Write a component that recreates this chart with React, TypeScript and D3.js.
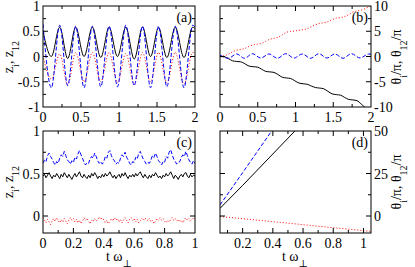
import React from "react";
import * as d3 from "d3";

// ---------- Data ----------
// Panel (a): extrema of the oscillations (t in units of 1/omega_perp)
const aT = [0, 0.11, 0.22, 0.325, 0.43, 0.54, 0.65, 0.76, 0.87, 0.98, 1.09, 1.2, 1.31, 1.415, 1.52, 1.63, 1.74, 1.855, 1.97, 2.0];
const aBlack = [0.5, 0.0, 0.58, -0.04, 0.58, 0.0, 0.58, -0.02, 0.58, 0.0, 0.58, -0.05, 0.58, 0.0, 0.57, -0.02, 0.58, -0.02, 0.58, 0.55];
const aBlue = [0.64, -0.62, 0.62, -0.58, 0.6, -0.62, 0.6, -0.6, 0.6, -0.6, 0.62, -0.58, 0.6, -0.62, 0.6, -0.6, 0.6, -0.62, 0.62, 0.58];
const aRed = [0.02, -0.45, 0.05, -0.56, 0.08, -0.5, 0.08, -0.5, 0.08, -0.52, 0.06, -0.55, 0.08, -0.5, 0.08, -0.52, 0.08, -0.55, 0.08, 0.06];

// Panel (b): phases
const bT = [0, 0.055, 0.11, 0.165, 0.22, 0.275, 0.33, 0.385, 0.44, 0.495, 0.55, 0.605, 0.66, 0.715, 0.77, 0.825, 0.88, 0.935, 0.99, 1.045, 1.1, 1.155, 1.21, 1.265, 1.32, 1.375, 1.43, 1.485, 1.54, 1.595, 1.65, 1.705, 1.76, 1.815, 1.87, 1.925, 1.98, 2.0];
const bBlack = [0, -0.05, -0.4, -0.85, -0.98, -1.05, -1.45, -1.9, -2.02, -2.1, -2.5, -2.95, -3.05, -3.15, -3.6, -4.1, -4.25, -4.35, -4.8, -5.25, -5.4, -5.5, -5.85, -6.15, -6.25, -6.4, -6.9, -7.4, -7.55, -7.65, -8.1, -8.5, -8.6, -8.75, -9.4, -10.1, -10.3, -10.4];
const bRed = [0, 0.15, 0.45, 0.9, 1.25, 1.4, 1.6, 2.0, 2.3, 2.45, 2.6, 3.0, 3.4, 3.6, 3.8, 4.3, 4.8, 4.95, 5.05, 5.2, 5.3, 5.5, 5.9, 6.3, 6.55, 6.7, 6.9, 7.3, 7.6, 7.7, 7.9, 8.3, 8.8, 9.0, 9.2, 9.5, 9.9, 10.0];
const bBlueT = aT;
const bBlue = [0.3, -0.35, 0.5, -0.35, 0.55, -0.3, 0.5, -0.35, 0.55, -0.3, 0.5, -0.35, 0.55, -0.3, 0.5, -0.35, 0.55, -0.3, 0.5, 0.45];

// Panel (c): t = 0, 0.01, ..., 1
const cBlue = [
  0.62, 0.66, 0.64, 0.71, 0.74, 0.70, 0.67, 0.63, 0.60, 0.64,
  0.62, 0.68, 0.72, 0.70, 0.76, 0.71, 0.66, 0.64, 0.61, 0.65,
  0.63, 0.69, 0.67, 0.73, 0.77, 0.72, 0.68, 0.63, 0.60, 0.63,
  0.62, 0.67, 0.70, 0.68, 0.74, 0.70, 0.65, 0.62, 0.64, 0.61,
  0.64, 0.70, 0.68, 0.75, 0.77, 0.71, 0.67, 0.65, 0.61, 0.63,
  0.62, 0.68, 0.72, 0.70, 0.75, 0.69, 0.66, 0.62, 0.60, 0.64,
  0.63, 0.69, 0.67, 0.74, 0.76, 0.71, 0.67, 0.64, 0.61, 0.63,
  0.62, 0.66, 0.71, 0.69, 0.74, 0.70, 0.65, 0.63, 0.60, 0.64,
  0.63, 0.70, 0.68, 0.75, 0.78, 0.72, 0.67, 0.64, 0.61, 0.63,
  0.64, 0.69, 0.72, 0.70, 0.76, 0.71, 0.66, 0.63, 0.61, 0.65,
  0.62,
];
const cBlack = [
  0.47, 0.49, 0.45, 0.48, 0.51, 0.47, 0.44, 0.48, 0.46, 0.50,
  0.47, 0.44, 0.49, 0.46, 0.51, 0.48, 0.45, 0.49, 0.46, 0.43,
  0.47, 0.50, 0.46, 0.49, 0.52, 0.47, 0.45, 0.49, 0.46, 0.44,
  0.48, 0.45, 0.50, 0.47, 0.51, 0.48, 0.44, 0.47, 0.45, 0.49,
  0.46, 0.50, 0.47, 0.49, 0.52, 0.48, 0.45, 0.48, 0.44, 0.47,
  0.49, 0.45, 0.50, 0.47, 0.51, 0.47, 0.44, 0.48, 0.46, 0.49,
  0.46, 0.50, 0.47, 0.50, 0.52, 0.48, 0.45, 0.49, 0.46, 0.44,
  0.48, 0.45, 0.49, 0.47, 0.51, 0.48, 0.45, 0.47, 0.44, 0.48,
  0.46, 0.50, 0.47, 0.49, 0.52, 0.48, 0.44, 0.48, 0.46, 0.43,
  0.47, 0.49, 0.46, 0.50, 0.51, 0.47, 0.45, 0.49, 0.46, 0.48,
  0.47,
];
const cRed = [
  -0.02, -0.05, -0.08, -0.04, -0.07, -0.10, -0.06, -0.03, -0.06, -0.02,
  -0.05, -0.08, -0.04, -0.07, -0.03, -0.06, -0.09, -0.05, -0.02, -0.05,
  -0.03, -0.07, -0.04, -0.08, -0.05, -0.09, -0.06, -0.02, -0.05, -0.03,
  -0.06, -0.09, -0.05, -0.07, -0.03, -0.06, -0.04, -0.01, -0.04, -0.02,
  -0.05, -0.08, -0.05, -0.09, -0.06, -0.03, -0.06, -0.02, -0.05, -0.03,
  -0.07, -0.04, -0.08, -0.05, -0.02, -0.05, -0.08, -0.04, -0.02, -0.05,
  -0.03, -0.07, -0.04, -0.08, -0.06, -0.03, -0.05, -0.02, -0.04, -0.06,
  -0.03, -0.07, -0.05, -0.09, -0.06, -0.03, -0.05, -0.02, -0.05, -0.03,
  -0.06, -0.08, -0.05, -0.07, -0.04, -0.02, -0.05, -0.03, -0.06, -0.04,
  -0.07, -0.05, -0.08, -0.04, -0.02, -0.05, -0.03, -0.06, -0.04, -0.02,
  -0.04,
];
const cT = cBlue.map((_, i) => i / 100);

// Panel (d)
const dT = [0.05, 0.2, 0.4, 0.6, 0.8, 1.0, 1.05];
const dBlack = [4.5, 18, 36.5, 55, 73, 91, 96];
const dBlue = [6.5, 25.5, 51, 77, 102, 128, 134];
const dRed = [-0.3, -1.6, -3.3, -5.1, -6.9, -8.6, -9.1];

// Tick labels
const abXTicks = [0, 0.5, 1, 1.5, 2];
const aYTicks = [-1, -0.5, 0, 0.5, 1];
const bYTicks = [-10, -5, 0, 5, 10];
const cXTicks = [0, 0.2, 0.4, 0.6, 0.8, 1];
const cYTicks = [0, 0.5, 1];
const dXTicks = [0.2, 0.4, 0.6, 0.8, 1];
const dYTicks = [0, 25, 50];

// ---------- Drawing ----------
const FONT = "'Liberation Serif', 'DejaVu Serif', serif";
const FS = 14;

type Series = { t: number[]; v: number[]; color: string; dash?: string; curve?: d3.CurveFactory };

type PanelProps = {
  id: string;
  left: number; right: number; top: number; bottom: number;
  xDomain: [number, number]; yDomain: [number, number];
  xTicks: number[]; xMinorStep: number;
  yTicks: number[]; yMinorStep: number;
  ySide: "left" | "right";
  showX: boolean;
  series: Series[];
  tag: string;
};

function Panel(p: PanelProps) {
  const x = d3.scaleLinear().domain(p.xDomain).range([p.left, p.right]);
  const y = d3.scaleLinear().domain(p.yDomain).range([p.bottom, p.top]);
  const xMajorStep = p.xTicks[1] - p.xTicks[0];
  const yMajorStep = p.yTicks[1] - p.yTicks[0];
  const xAll: number[] = [];
  for (let v = Math.ceil(p.xDomain[0] / p.xMinorStep - 1e-9) * p.xMinorStep; v <= p.xDomain[1] + 1e-9; v += p.xMinorStep) xAll.push(+v.toFixed(6));
  const yAll: number[] = [];
  for (let v = Math.ceil(p.yDomain[0] / p.yMinorStep - 1e-9) * p.yMinorStep; v <= p.yDomain[1] + 1e-9; v += p.yMinorStep) yAll.push(+v.toFixed(6));
  const isMajor = (v: number, step: number) => Math.abs(v / step - Math.round(v / step)) < 1e-6;
  const ticks: JSX.Element[] = [];
  xAll.forEach((v, i) => {
    const L = isMajor(v, xMajorStep) ? 5 : 3;
    const px = x(v);
    if (px <= p.left + 0.5 || px >= p.right - 0.5) return;
    ticks.push(<line key={"xb" + i} x1={px} x2={px} y1={p.bottom} y2={p.bottom - L} />);
    ticks.push(<line key={"xt" + i} x1={px} x2={px} y1={p.top} y2={p.top + L} />);
  });
  yAll.forEach((v, i) => {
    const L = isMajor(v, yMajorStep) ? 5 : 3;
    const py = y(v);
    if (py <= p.top + 0.5 || py >= p.bottom - 0.5) return;
    ticks.push(<line key={"yl" + i} y1={py} y2={py} x1={p.left} x2={p.left + L} />);
    ticks.push(<line key={"yr" + i} y1={py} y2={py} x1={p.right} x2={p.right - L} />);
  });

  return (
    <g>
      <defs>
        <clipPath id={"clip-" + p.id}>
          <rect x={p.left} y={p.top} width={p.right - p.left} height={p.bottom - p.top} />
        </clipPath>
      </defs>
      <g clipPath={`url(#clip-${p.id})`}>
        {p.series.map((s, i) => {
          const line = d3
            .line<number>()
            .x((_, j) => x(s.t[j]))
            .y((d) => y(d))
            .curve(s.curve || d3.curveLinear);
          return (
            <path key={i} d={line(s.v) || ""} fill="none" stroke={s.color} strokeWidth={1}
              strokeDasharray={s.dash} />
          );
        })}
      </g>
      <g stroke="#000" strokeWidth={1}>{ticks}</g>
      <rect x={p.left} y={p.top} width={p.right - p.left} height={p.bottom - p.top} fill="none" stroke="#000" strokeWidth={1} />
      {p.showX &&
        p.xTicks.map((v) => (
          <text key={"xl" + v} x={x(v)} y={p.bottom + 15} textAnchor="middle" fontSize={FS} fontFamily={FONT}>
            {String(v)}
          </text>
        ))}
      {p.yTicks.map((v) => (
        <text key={"yl" + v}
          x={p.ySide === "left" ? p.left - 3 : p.right + 3}
          y={y(v) + 5}
          textAnchor={p.ySide === "left" ? "end" : "start"}
          fontSize={FS} fontFamily={FONT}>
          {String(v)}
        </text>
      ))}
      <text x={p.right - 3} y={p.top + 16} textAnchor="end" fontSize={FS} fontFamily={FONT}>{p.tag}</text>
    </g>
  );
}

function ZLabel({ cx, cy }: { cx: number; cy: number }) {
  return (
    <text transform={`translate(${cx},${cy}) rotate(-90)`} textAnchor="middle" fontSize={FS} fontFamily={FONT}>
      z<tspan baselineShift="sub" fontSize={10}>i</tspan>
      <tspan>, z</tspan>
      <tspan baselineShift="sub" fontSize={10}>12</tspan>
    </text>
  );
}

function ThetaLabel({ cx, cy }: { cx: number; cy: number }) {
  return (
    <text transform={`translate(${cx},${cy}) rotate(-90)`} textAnchor="middle" fontSize={FS} fontFamily={FONT}>
      θ<tspan baselineShift="sub" fontSize={10}>i</tspan>
      <tspan>/π, θ</tspan>
      <tspan baselineShift="sub" fontSize={10}>12</tspan>
      <tspan>/π</tspan>
    </text>
  );
}

function TLabel({ cx, y }: { cx: number; y: number }) {
  return (
    <text x={cx} y={y} textAnchor="middle" fontSize={FS} fontFamily={FONT}>
      t ω<tspan baselineShift="sub" fontSize={10}>⊥</tspan>
    </text>
  );
}

export default function App() {
  const dotted = "1,2";
  const dashed = "4,2";
  const mono = d3.curveMonotoneX;
  return (
    <svg width={415} height={267} style={{ position: "absolute", left: 0, top: 0, background: "#fff" }}>
      <rect x={0} y={0} width={415} height={267} fill="#fff" />
      <Panel id="a" left={43} right={195} top={6} bottom={107}
        xDomain={[0, 2]} yDomain={[-1, 1]} xTicks={abXTicks} xMinorStep={0.25}
        yTicks={aYTicks} yMinorStep={0.25} ySide="left" showX={true} tag="(a)"
        series={[
          { t: aT, v: aRed, color: "#ff0000", dash: dotted, curve: mono },
          { t: aT, v: aBlack, color: "#000000", curve: mono },
          { t: aT, v: aBlue, color: "#0000ff", dash: dashed, curve: mono },
        ]} />
      <Panel id="b" left={220} right={371} top={6} bottom={107}
        xDomain={[0, 2]} yDomain={[-10, 10]} xTicks={abXTicks} xMinorStep={0.25}
        yTicks={bYTicks} yMinorStep={2.5} ySide="right" showX={true} tag="(b)"
        series={[
          { t: bT, v: bRed, color: "#ff0000", dash: dotted, curve: mono },
          { t: bT, v: bBlack, color: "#000000", curve: mono },
          { t: bBlueT, v: bBlue, color: "#0000ff", dash: dashed, curve: mono },
        ]} />
      <Panel id="c" left={43} right={195} top={131} bottom={233}
        xDomain={[0, 1]} yDomain={[-0.2, 1]} xTicks={cXTicks} xMinorStep={0.1}
        yTicks={cYTicks} yMinorStep={0.25} ySide="left" showX={true} tag="(c)"
        series={[
          { t: cT, v: cRed, color: "#ff0000", dash: dotted },
          { t: cT, v: cBlack, color: "#000000" },
          { t: cT, v: cBlue, color: "#0000ff", dash: dashed },
        ]} />
      <Panel id="d" left={220} right={371} top={131} bottom={233}
        xDomain={[0.05, 1.05]} yDomain={[-10, 50]} xTicks={dXTicks} xMinorStep={0.1}
        yTicks={dYTicks} yMinorStep={12.5} ySide="right" showX={true} tag="(d)"
        series={[
          { t: dT, v: dRed, color: "#ff0000", dash: dotted },
          { t: dT, v: dBlack, color: "#000000" },
          { t: dT, v: dBlue, color: "#0000ff", dash: dashed },
        ]} />
      <ZLabel cx={13} cy={57} />
      <ZLabel cx={13} cy={182} />
      <ThetaLabel cx={401} cy={57} />
      <ThetaLabel cx={401} cy={182} />
      <TLabel cx={119} y={261} />
      <TLabel cx={295} y={261} />
    </svg>
  );
}
